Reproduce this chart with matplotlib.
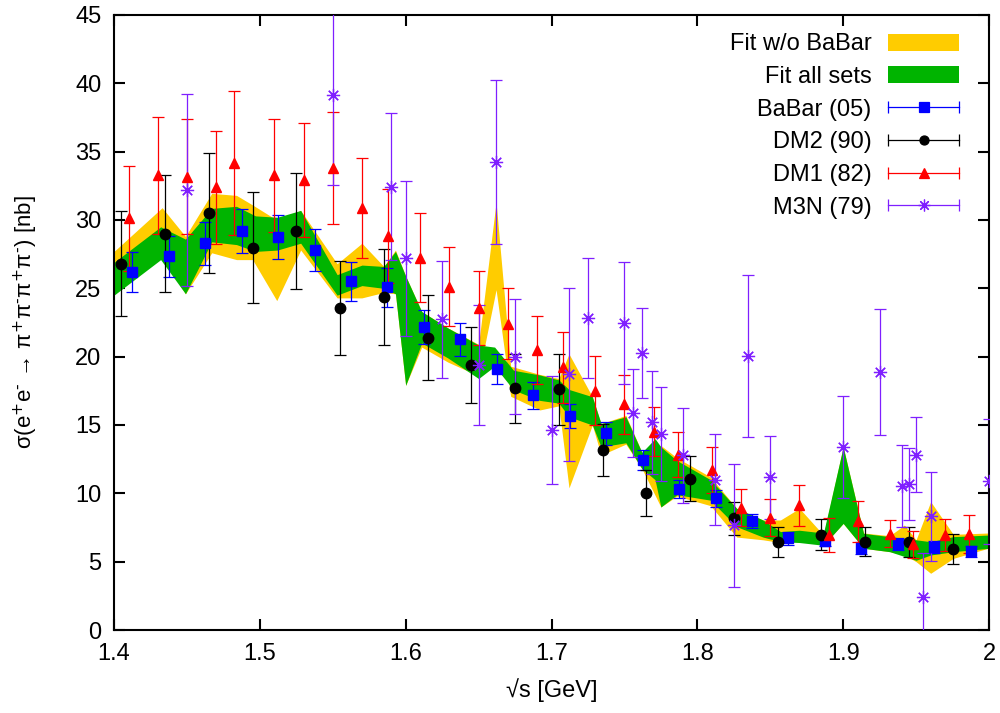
import numpy as np
import matplotlib
matplotlib.use("Agg")
import matplotlib.pyplot as plt
from matplotlib.lines import Line2D
from matplotlib.patches import Patch
from matplotlib.legend_handler import HandlerLine2D
from matplotlib.ticker import FuncFormatter, MultipleLocator

plt.rcParams['font.family'] = ['Liberation Sans', 'DejaVu Sans']
plt.rcParams['mathtext.default'] = 'regular'
plt.rcParams['font.size'] = 17

# BaBar (05)
babar_x = [1.4125, 1.4375, 1.4625, 1.4875, 1.5125, 1.5375, 1.5625, 1.5875, 1.6125, 1.6375, 1.6625, 1.6875,
           1.7125, 1.7375, 1.7625, 1.7875, 1.8125, 1.8375, 1.8625, 1.8875, 1.9125, 1.9375, 1.9625, 1.9875]
babar_y = [26.17, 27.34, 28.29, 29.17, 28.78, 27.78, 25.51, 25.07, 22.15, 21.27, 19.07, 17.17,
           15.66, 14.39, 12.42, 10.29, 9.63, 7.97, 6.71, 6.54, 6.0, 6.27, 6.1, 5.76]
babar_e = [1.46, 1.5, 1.56, 1.6, 1.6, 1.54, 1.43, 1.41, 1.26, 1.21, 1.1, 0.99,
           0.9, 0.85, 0.74, 0.66, 0.63, 0.54, 0.48, 0.4, 0.45, 0.43, 0.43, 0.4]

# DM2 (90)
dm2_x = [1.405, 1.435, 1.465, 1.495, 1.525, 1.555, 1.585, 1.615, 1.645, 1.675,
         1.705, 1.735, 1.765, 1.795, 1.825, 1.855, 1.885, 1.915, 1.945, 1.975]
dm2_y = [26.8, 29.0, 30.49, 27.98, 29.2, 23.58, 24.39, 21.4, 19.39, 17.68,
         17.61, 13.19, 10.05, 11.08, 8.17, 6.46, 6.98, 6.46, 6.44, 5.93]
dm2_e = [3.83, 4.26, 4.4, 4.04, 4.27, 3.45, 3.51, 3.09, 2.78, 2.55,
         2.58, 1.9, 1.68, 1.62, 1.22, 1.09, 1.15, 1.07, 1.1, 1.11]

# DM1 (82)
dm1_x = [1.41, 1.43, 1.45, 1.47, 1.482, 1.51, 1.53, 1.55, 1.57, 1.588, 1.61, 1.63, 1.65, 1.67, 1.69,
         1.708, 1.73, 1.75, 1.77, 1.787, 1.81, 1.83, 1.85, 1.87, 1.89, 1.91, 1.932, 1.948, 1.97, 1.986]
dm1_y = [30.13, 33.26, 33.17, 32.39, 34.2, 33.26, 32.93, 33.79, 30.88, 28.83, 27.23, 25.12, 23.56, 22.4, 20.5,
         19.21, 17.51, 16.51, 14.52, 12.84, 11.73, 8.94, 8.23, 9.12, 6.95, 7.94, 7.05, 6.27, 6.95, 7.05]
dm1_e = [3.84, 4.28, 4.19, 4.15, 5.27, 4.16, 4.15, 4.08, 3.68, 3.46, 3.26, 2.87, 2.7, 2.6, 2.5,
         2.57, 2.51, 2.17, 1.82, 1.67, 1.68, 1.35, 1.38, 1.51, 1.22, 1.48, 1.0, 1.0, 1.15, 1.39]

# M3N (79)
m3n_x = [1.45, 1.55, 1.59, 1.60, 1.625, 1.65, 1.662, 1.675, 1.70, 1.712, 1.725, 1.75, 1.756, 1.762, 1.769,
         1.775, 1.79, 1.812, 1.825, 1.835, 1.85, 1.90, 1.925, 1.94, 1.945, 1.95, 1.955, 1.96, 2.00]
m3n_y = [32.2, 39.17, 32.44, 27.2, 22.73, 19.37, 34.27, 20.0, 14.63, 18.73, 22.8, 22.46, 15.88, 20.27, 15.2,
         14.32, 12.78, 11.0, 7.66, 20.05, 11.17, 13.37, 18.88, 10.54, 10.68, 12.83, 2.44, 8.32, 10.88]
m3n_e = [7.05, 6.63, 5.38, 5.67, 4.26, 4.38, 6.0, 4.2, 3.94, 6.33, 4.39, 4.48, 3.2, 3.32, 3.76,
         3.45, 3.48, 3.32, 4.5, 5.91, 3.06, 3.74, 4.63, 2.98, 2.61, 2.74, 3.17, 3.27, 4.57]

# fit without BaBar (yellow band)
fit1_x = [1.400, 1.433, 1.449, 1.467, 1.484, 1.495, 1.5116, 1.528, 1.553, 1.570, 1.585, 1.593, 1.600, 1.611,
          1.629, 1.650, 1.662, 1.672, 1.692, 1.705, 1.712, 1.728, 1.734, 1.751, 1.762, 1.775, 1.786, 1.809,
          1.827, 1.845, 1.857, 1.870, 1.8865, 1.900, 1.914, 1.932, 1.942, 1.950, 1.960, 1.9755, 2.000]
fit1_lo = [24.6, 27.3, 24.6, 27.6, 27.1, 27.1, 24.1, 27.8, 24.3, 24.3, 24.7, 24.6, 17.9, 20.7,
           19.6, 18.6, 24.9, 17.1, 16.1, 16.4, 10.4, 15.0, 12.8, 13.6, 11.8, 9.0, 9.8, 9.1,
           6.8, 6.6, 6.4, 6.9, 6.2, 7.8, 5.98, 5.73, 5.5, 5.0, 4.15, 5.24, 6.0]
fit1_hi = [27.7, 30.9, 28.8, 31.95, 31.8, 31.1, 30.0, 30.7, 26.8, 28.3, 26.6, 27.8, 25.9, 23.3,
           22.1, 20.9, 31.3, 19.3, 18.7, 18.4, 20.2, 17.07, 15.1, 15.7, 13.0, 13.5, 12.6, 11.2,
           8.9, 8.05, 8.05, 8.9, 6.95, 13.4, 7.1, 6.9, 7.68, 6.6, 9.39, 7.0, 7.1]

# fit all sets (green band)
fit2_x = [1.400, 1.432, 1.449, 1.467, 1.484, 1.497, 1.512, 1.528, 1.553, 1.570, 1.585, 1.593, 1.600, 1.611,
          1.629, 1.650, 1.661, 1.674, 1.692, 1.705, 1.712, 1.728, 1.734, 1.751, 1.762, 1.771, 1.775, 1.786,
          1.809, 1.827, 1.845, 1.857, 1.870, 1.8865, 1.900, 1.914, 1.932, 1.950, 1.960, 1.9755, 2.000]
fit2_lo = [24.5, 27.1, 24.6, 28.4, 28.2, 27.7, 27.8, 28.3, 24.5, 25.2, 25.0, 24.6, 17.9, 21.0,
           19.9, 18.4, 19.3, 17.56, 16.8, 16.6, 15.6, 15.0, 13.4, 13.7, 11.8, 11.0, 9.0, 9.9,
           9.5, 7.56, 6.8, 6.46, 6.4, 6.2, 7.8, 5.98, 5.73, 5.1, 5.49, 5.73, 5.98]
fit2_hi = [26.9, 29.5, 28.6, 30.85, 31.0, 30.3, 30.2, 30.7, 26.0, 26.7, 26.6, 27.7, 25.9, 23.3,
           22.1, 20.85, 20.7, 19.0, 18.66, 18.3, 17.6, 17.07, 15.1, 15.6, 13.0, 14.0, 13.4, 12.4,
           11.0, 8.9, 8.05, 7.2, 7.3, 7.1, 13.4, 7.07, 6.83, 6.6, 6.46, 6.83, 6.95]

c_yel = '#ffcc00'
c_grn = '#00b400'
c_blue = '#0000ff'
c_blk = '#000000'
c_red = '#ff0000'
c_pur = '#7f1fff'

fig = plt.figure(figsize=(10, 7.13), dpi=100)
ax = fig.add_axes([0.114, 0.1164, 0.875, 0.8626])

ax.fill_between(fit1_x, fit1_lo, fit1_hi, color=c_yel, lw=0, zorder=1)
ax.fill_between(fit2_x, fit2_lo, fit2_hi, color=c_grn, lw=0, zorder=2)

ebkw = dict(linestyle='none', elinewidth=0.9, capsize=4, capthick=0.9, zorder=3)
ax.errorbar(babar_x, babar_y, yerr=babar_e, fmt='s', color=c_blue, ms=7, **ebkw)
ax.errorbar(dm2_x, dm2_y, yerr=dm2_e, fmt='o', color=c_blk, ms=7.5, **ebkw)
ax.errorbar(dm1_x, dm1_y, yerr=dm1_e, fmt='^', color=c_red, ms=7, **ebkw)
ax.errorbar(m3n_x, m3n_y, yerr=m3n_e, fmt='none', ecolor=c_pur, **ebkw)
ax.plot(m3n_x, m3n_y, linestyle='none', marker=(8, 2, 0), color=c_pur, ms=9.5, mew=0.9, zorder=4)

ax.set_xlim(1.4, 2.0)
ax.set_ylim(0, 45)
ax.xaxis.set_major_locator(MultipleLocator(0.1))
ax.yaxis.set_major_locator(MultipleLocator(5))
ax.xaxis.set_major_formatter(FuncFormatter(lambda v, p: '{:g}'.format(round(v, 2))))
ax.tick_params(direction='in', top=True, right=True, length=8, width=1.5, labelsize=17, pad=9)
for s in ax.spines.values():
    s.set_linewidth(1.5)

ax.set_xlabel('√s [GeV]', fontsize=17)
ax.set_ylabel(r'σ(e$^{\text{+}}$e$^{\text{-}}$ → π$^{\text{+}}$π$^{\text{-}}$π$^{\text{+}}$π$^{\text{-}}$) [nb]', fontsize=16)
ax.xaxis.set_label_coords(0.5, -0.078)
ax.yaxis.set_label_coords(-0.084, 0.5)

# legend in gnuplot style: label left, errorbar sample right
handles = [Patch(facecolor=c_yel, lw=0), Patch(facecolor=c_grn, lw=0)]
hmap = {}
for col, mk, ms in [(c_blue, 's', 7), (c_blk, 'o', 6.5), (c_red, '^', 6.5), (c_pur, (8, 2, 0), 8.5)]:
    ln = Line2D([], [], color=col, lw=0.9, marker=mk, ms=ms, mew=0.9)
    caps = Line2D([], [], color=col, lw=0, marker='|', ms=9, mew=0.9)
    hmap[caps] = HandlerLine2D(numpoints=2, marker_pad=0)
    handles.append((ln, caps))
labels = ['Fit w/o BaBar', 'Fit all sets', 'BaBar (05)', 'DM2 (90)', 'DM1 (82)', 'M3N (79)']
ax.legend(handles, labels, handler_map=hmap, loc='upper right', bbox_to_anchor=(0.966, 0.970),
          frameon=False, markerfirst=False, fontsize=17, handlelength=3.0, handleheight=0.72,
          handletextpad=0.72, labelspacing=0.45, borderpad=0, borderaxespad=0)

plt.savefig('out.png', dpi=100)
